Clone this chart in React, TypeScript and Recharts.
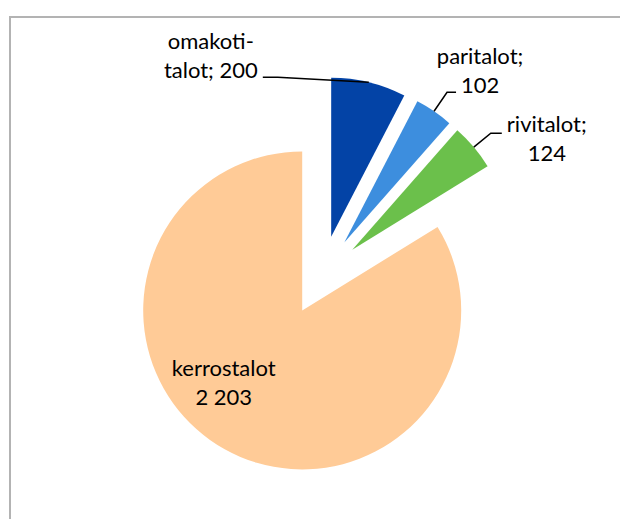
import { Pie, PieChart, Sector } from "recharts";

const categories = ["omakoti-talot", "paritalot", "rivitalot", "kerrostalot"];
const values = [200, 102, 124, 2203];
const labelTexts = [
  ["omakoti-", "talot; 200"],
  ["paritalot;", "102"],
  ["rivitalot;", "124"],
  ["kerrostalot", "2 203"]
];
const colors = ["#0343A6", "#3D8EDE", "#6BC04B", "#FFCB97"];

const data = categories.map((name, i) => ({ name, value: values[i], fill: colors[i] }));

const RAD = Math.PI / 180;
const EXPLODE = 40;

// label placement relative to the outer midpoint of each exploded slice
const labelLayout = [
  { text: [-158, -33], line: [[-91, -5], [-106, -5]] },
  { text: [46, -47], line: [[13, -19], [22, -19]] },
  { text: [73, -15], line: [[17, -14], [28, -14]] },
  { text: [-1, -73], line: null as number[][] | null }
];

function shift(mid: number, dist: number) {
  return [dist * Math.cos(-mid * RAD), dist * Math.sin(-mid * RAD)];
}

function ExplodedSlice(props: any) {
  const { cx, cy, innerRadius, outerRadius, startAngle, endAngle, fill } = props;
  const [dx, dy] = shift((startAngle + endAngle) / 2, EXPLODE);
  return (
    <Sector
      cx={cx + dx}
      cy={cy + dy}
      innerRadius={innerRadius}
      outerRadius={outerRadius}
      startAngle={startAngle}
      endAngle={endAngle}
      fill={fill}
      stroke="none"
    />
  );
}

function SliceLabel(props: any) {
  const { cx, cy, midAngle, outerRadius, index } = props;
  const [ax, ay] = shift(midAngle, EXPLODE + outerRadius);
  const x = cx + ax;
  const y = cy + ay;
  const lay = labelLayout[index];
  const lines = labelTexts[index];
  return (
    <g>
      {lay.line && (
        <polyline
          points={[[0, 0], ...lay.line].map(([px, py]) => `${x + px},${y + py}`).join(" ")}
          fill="none"
          stroke="#000"
          strokeWidth={1.5}
        />
      )}
      {lines.map((t, i) => (
        <text
          key={i}
          x={x + lay.text[0]}
          y={y + lay.text[1] + i * 29}
          textAnchor="middle"
          fill="#000"
          fontSize={22}
          fontFamily="Lato, 'Noto Sans', sans-serif"
        >
          {t}
        </text>
      ))}
    </g>
  );
}

export default function App() {
  return (
    <div style={{ position: "relative", width: 612, height: 511 }}>
      <div
        style={{
          position: "absolute",
          left: 1,
          top: 8,
          width: 619,
          height: 511,
          boxSizing: "border-box",
          borderLeft: "2px solid #b3b3b3",
          borderTop: "2px solid #b3b3b3"
        }}
      />
      <div style={{ position: "absolute", left: 0, top: 0 }}>
        <PieChart width={612} height={511} margin={{ top: 0, right: 0, bottom: 0, left: 0 }}>
          <Pie
            data={data}
            dataKey="value"
            nameKey="name"
            cx={313.7}
            cy={267.5}
            outerRadius={159}
            startAngle={90}
            endAngle={-270}
            stroke="none"
            shape={ExplodedSlice}
            activeShape={ExplodedSlice}
            label={SliceLabel}
            labelLine={false}
            isAnimationActive={false}
          />
        </PieChart>
      </div>
    </div>
  );
}
